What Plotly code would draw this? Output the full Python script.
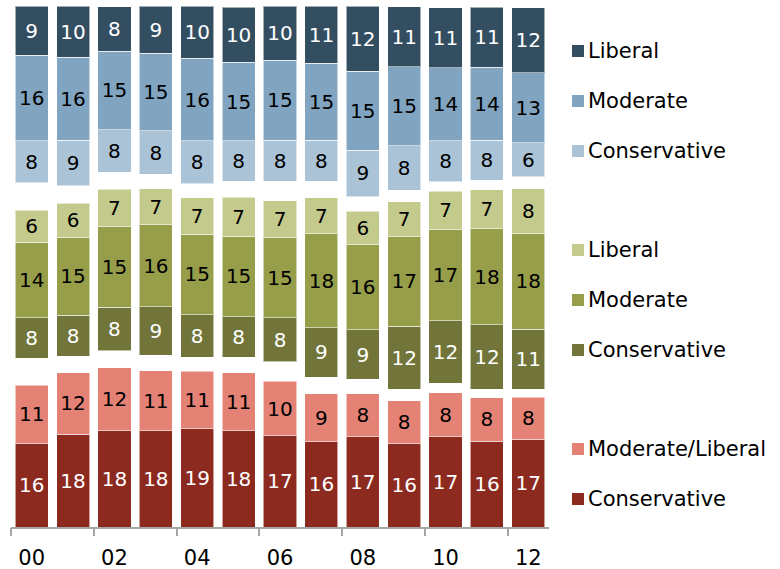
import plotly.graph_objects as go

years = ["00", "01", "02", "03", "04", "05", "06", "07", "08", "09", "10", "11", "12"]
tick_labels = ["00", "02", "04", "06", "08", "10", "12"]

# Republican
rep_cons = [15.99, 17.79, 18.48, 18.48, 18.87, 18.48, 17.49, 16.37, 17.33, 15.99, 17.33, 16.49, 16.83]
rep_modlib = [11.21, 11.83, 12.10, 11.49, 11.02, 11.14, 10.45, 9.22, 8.26, 8.25, 8.45, 8.33, 8.06]
# spacing between groups (not labelled)
gap_rep_ind = [5.18, 3.20, 3.26, 2.99, 2.68, 2.95, 3.79, 3.20, 2.76, 2.19, 1.86, 1.61, 1.54]
# Independent
ind_cons = [7.79, 7.81, 8.33, 9.32, 8.18, 7.79, 8.39, 9.49, 9.49, 12.15, 11.96, 12.40, 11.49]
ind_mod = [14.49, 15.03, 15.45, 15.74, 15.45, 15.45, 15.45, 18.02, 16.34, 17.14, 17.49, 18.37, 18.49]
ind_lib = [6.18, 6.47, 7.20, 6.91, 7.01, 7.47, 7.06, 6.91, 6.47, 6.72, 7.34, 7.49, 8.49]
gap_ind_dem = [5.24, 3.38, 3.26, 2.82, 2.68, 3.13, 3.78, 3.20, 2.75, 2.24, 1.85, 1.91, 2.34]
# Democrat
dem_cons = [8.01, 8.77, 8.18, 8.26, 8.20, 7.68, 7.87, 7.87, 8.96, 8.49, 7.81, 7.68, 6.49]
dem_mod = [16.49, 15.87, 15.10, 14.91, 15.87, 15.16, 15.30, 14.78, 15.16, 15.18, 14.07, 14.01, 13.49]
dem_lib = [9.42, 9.85, 8.49, 9.08, 10.04, 10.49, 10.42, 10.94, 12.48, 11.49, 11.49, 11.49, 12.49]

C_DEM_LIB = "#344E61"
C_DEM_MOD = "#81A5C1"
C_DEM_CON = "#AAC3D7"
C_IND_LIB = "#C4CA8C"
C_IND_MOD = "#969E4A"
C_IND_CON = "#71753A"
C_REP_ML = "#E48275"
C_REP_CON = "#8C2A1F"

FONT = "DejaVu Sans"
FS = 20
FS_LEG = 21
x = list(range(len(years)))

fig = go.Figure()

def add_seg(vals, color, txtcolor, name):
    fig.add_trace(go.Bar(
        x=x, y=vals, name=name, marker=dict(color=color, line=dict(color="rgba(255,255,255,0.55)", width=1)),
        texttemplate="%{y:.0f}", textposition="inside", insidetextanchor="middle",
        textangle=0, textfont=dict(family=FONT, size=FS, color=txtcolor),
        width=0.8, showlegend=False, hoverinfo="skip"))

def add_gap(vals):
    fig.add_trace(go.Bar(x=x, y=vals, marker=dict(color="rgba(0,0,0,0)", line=dict(width=0)),
                         width=0.8, showlegend=False, hoverinfo="skip"))

add_seg(rep_cons, C_REP_CON, "white", "Rep Conservative")
add_seg(rep_modlib, C_REP_ML, "black", "Rep Moderate/Liberal")
add_gap(gap_rep_ind)
add_seg(ind_cons, C_IND_CON, "white", "Ind Conservative")
add_seg(ind_mod, C_IND_MOD, "black", "Ind Moderate")
add_seg(ind_lib, C_IND_LIB, "black", "Ind Liberal")
add_gap(gap_ind_dem)
add_seg(dem_cons, C_DEM_CON, "black", "Dem Conservative")
add_seg(dem_mod, C_DEM_MOD, "black", "Dem Moderate")
add_seg(dem_lib, C_DEM_LIB, "white", "Dem Liberal")

# invisible trace to carry the tick-mark axis
fig.add_trace(go.Scatter(x=[-0.5, 12.5], y=[0, 0], xaxis="x2", mode="lines",
                         line=dict(color="rgba(0,0,0,0)"), showlegend=False, hoverinfo="skip"))

L, R, T, B = 11, 231, 6, 42
W, H = 780.0, 569.0
fig.update_layout(
    barmode="stack",
    width=780, height=569,
    margin=dict(l=L, r=R, t=T, b=B, autoexpand=False),
    paper_bgcolor="white", plot_bgcolor="white",
    font=dict(family=FONT, size=FS, color="black"),
    uniformtext=dict(minsize=FS, mode="show"),
    xaxis=dict(range=[-0.5, 12.5], tickmode="array", tickvals=x[::2], ticktext=tick_labels,
               showline=True, linecolor="#A6A6A6", linewidth=2, ticks="", showgrid=False,
               zeroline=False, tickfont=dict(family=FONT, size=21, color="black"),
               ticklabelstandoff=11, automargin=False),
    xaxis2=dict(range=[-0.5, 12.5], overlaying="x", side="bottom", tickmode="array",
                tickvals=[v - 0.5 for v in x[::2]], showticklabels=False, ticks="outside",
                ticklen=8, tickwidth=2, tickcolor="#A6A6A6", showline=False, showgrid=False,
                zeroline=False, automargin=False),
    yaxis=dict(range=[0, 100], visible=False, showgrid=False, zeroline=False, automargin=False),
)

legend_items = [
    ("Liberal", C_DEM_LIB, 51),
    ("Moderate", C_DEM_MOD, 101),
    ("Conservative", C_DEM_CON, 151),
    ("Liberal", C_IND_LIB, 250),
    ("Moderate", C_IND_MOD, 300),
    ("Conservative", C_IND_CON, 350),
    ("Moderate/Liberal", C_REP_ML, 449),
    ("Conservative", C_REP_CON, 499),
]
PW = W - L - R
PH = H - T - B
def px_x(px):
    return (px - L) / PW
def px_y(py):
    return (H - B - py) / PH

for label, color, yc in legend_items:
    fig.add_shape(type="rect", xref="paper", yref="paper",
                  x0=px_x(572), x1=px_x(584), y0=px_y(yc + 6), y1=px_y(yc - 6),
                  fillcolor=color, line=dict(width=0))
    fig.add_annotation(xref="paper", yref="paper", x=px_x(586),
                       y=px_y(yc), xanchor="left", yanchor="middle",
                       text=label, showarrow=False,
                       font=dict(family=FONT, size=FS_LEG, color="black"))

fig.write_html("out.html", config={"displayModeBar": False},
               post_script="document.body.style.margin='0';document.body.style.overflow='hidden';")
